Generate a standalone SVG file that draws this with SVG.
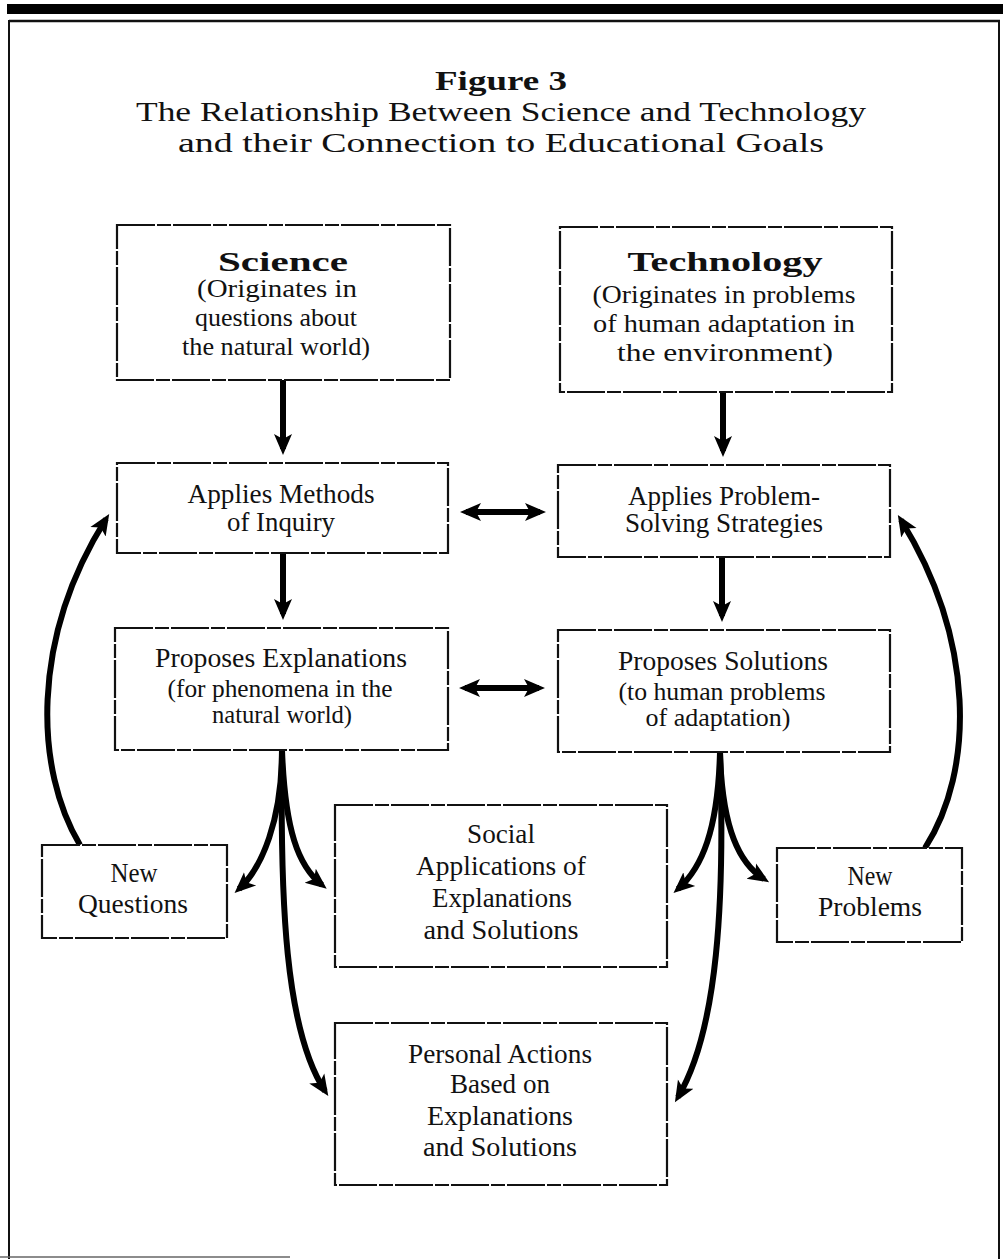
<svg xmlns="http://www.w3.org/2000/svg" width="1003" height="1259" viewBox="0 0 1003 1259">
<style>
.box{fill:#fff;stroke:#111;stroke-width:2.2;stroke-dasharray:38 2 14 2}
.t{font-family:"Liberation Serif","Times New Roman",serif;fill:#111;text-anchor:middle;font-size:27px}
.s{font-size:25px}
.b{font-weight:bold}
.c{fill:none;stroke:#000;stroke-width:6}
.frame{fill:none;stroke:#111}
</style>
<defs>
<marker id="ah" markerUnits="userSpaceOnUse" markerWidth="22" markerHeight="20" viewBox="0 0 22 20" refX="15" refY="10" orient="auto-start-reverse">
<path d="M0,1 L21,10 L0,19 L5,10 z" fill="#000"/>
</marker>
</defs>
<rect width="1003" height="1259" fill="#fff"/>
<g id="frame">
<rect x="7" y="4" width="996" height="10" fill="#000"/>
<line class="frame" x1="9" y1="21" x2="1000" y2="21" stroke-width="2.5"/>
<line class="frame" x1="9" y1="20" x2="9" y2="1259" stroke-width="2"/>
<line class="frame" x1="999" y1="20" x2="999" y2="1259" stroke-width="2"/>
<line x1="0" y1="1257" x2="290" y2="1257" stroke="#666" stroke-width="1.5"/>
</g>
<g id="title">
<text class="t b" x="501" y="90" font-size="30" textLength="132" lengthAdjust="spacingAndGlyphs">Figure 3</text>
<text class="t" x="501" y="121" font-size="31" textLength="730" lengthAdjust="spacingAndGlyphs">The Relationship Between Science and Technology</text>
<text class="t" x="501" y="152" font-size="31" textLength="646" lengthAdjust="spacingAndGlyphs">and their Connection to Educational Goals</text>
</g>
<g id="connectors">
<line class="c" x1="283" y1="380" x2="283" y2="449" marker-end="url(#ah)"/>
<line class="c" x1="723" y1="392" x2="723" y2="451" marker-end="url(#ah)"/>
<line class="c" x1="283" y1="553" x2="283" y2="614" marker-end="url(#ah)"/>
<line class="c" x1="722" y1="557" x2="722" y2="616" marker-end="url(#ah)"/>
<line class="c" x1="466" y1="512" x2="540" y2="512" marker-start="url(#ah)" marker-end="url(#ah)"/>
<line class="c" x1="465" y1="688" x2="539" y2="688" marker-start="url(#ah)" marker-end="url(#ah)"/>
<path class="c" d="M80,845 C35,770 30,640 106,519" marker-end="url(#ah)"/>
<path class="c" d="M925,848 C975,770 975,640 901,520" marker-end="url(#ah)"/>
<path class="c" d="M282,750 C282,820 262,868 239,889" marker-end="url(#ah)"/>
<path class="c" d="M282,750 C285,830 298,866 322,885" marker-end="url(#ah)"/>
<path class="c" d="M282,750 C280,900 285,1030 325,1091" marker-end="url(#ah)"/>
<path class="c" d="M720,752 C718,830 702,868 678,889" marker-end="url(#ah)"/>
<path class="c" d="M720,752 C722,830 740,864 764,879" marker-end="url(#ah)"/>
<path class="c" d="M720,752 C725,900 718,1030 678,1097" marker-end="url(#ah)"/>
</g>
<g id="science">
<rect class="box" x="117" y="225" width="333" height="155"/>
<text class="t b" x="283" y="271" font-size="37" textLength="130" lengthAdjust="spacingAndGlyphs">Science</text>
<text class="t s" x="277" y="297" textLength="160" lengthAdjust="spacingAndGlyphs">(Originates in</text>
<text class="t s" x="276" y="326" textLength="162" lengthAdjust="spacingAndGlyphs">questions about</text>
<text class="t s" x="276" y="355" textLength="188" lengthAdjust="spacingAndGlyphs">the natural world)</text>
</g>
<g id="technology">
<rect class="box" x="560" y="227" width="332" height="165"/>
<text class="t b" x="725" y="271" font-size="37" textLength="195" lengthAdjust="spacingAndGlyphs">Technology</text>
<text class="t s" x="724" y="303" textLength="263" lengthAdjust="spacingAndGlyphs">(Originates in problems</text>
<text class="t s" x="724" y="332" textLength="262" lengthAdjust="spacingAndGlyphs">of human adaptation in</text>
<text class="t s" x="725" y="361" textLength="216" lengthAdjust="spacingAndGlyphs">the environment)</text>
</g>
<g id="applies-methods">
<rect class="box" x="117" y="463" width="331" height="90"/>
<text class="t" x="281" y="503" textLength="187" lengthAdjust="spacingAndGlyphs">Applies Methods</text>
<text class="t" x="281" y="531" textLength="108" lengthAdjust="spacingAndGlyphs">of Inquiry</text>
</g>
<g id="applies-problem">
<rect class="box" x="558" y="465" width="332" height="92"/>
<text class="t" x="724" y="505" textLength="192" lengthAdjust="spacingAndGlyphs">Applies Problem-</text>
<text class="t" x="724" y="532" textLength="198" lengthAdjust="spacingAndGlyphs">Solving Strategies</text>
</g>
<g id="proposes-explanations">
<rect class="box" x="115" y="628" width="333" height="122"/>
<text class="t" x="281" y="667" textLength="252" lengthAdjust="spacingAndGlyphs">Proposes Explanations</text>
<text class="t s" x="280" y="697" font-size="22" textLength="225" lengthAdjust="spacingAndGlyphs">(for phenomena in the</text>
<text class="t s" x="282" y="723" font-size="22" textLength="140" lengthAdjust="spacingAndGlyphs">natural world)</text>
</g>
<g id="proposes-solutions">
<rect class="box" x="558" y="630" width="332" height="122"/>
<text class="t" x="723" y="670" textLength="210" lengthAdjust="spacingAndGlyphs">Proposes Solutions</text>
<text class="t s" x="722" y="700" font-size="22" textLength="207" lengthAdjust="spacingAndGlyphs">(to human problems</text>
<text class="t s" x="718" y="726" font-size="22" textLength="145" lengthAdjust="spacingAndGlyphs">of adaptation)</text>
</g>
<g id="new-questions">
<rect class="box" x="42" y="845" width="185" height="93"/>
<text class="t" x="134" y="882" textLength="47" lengthAdjust="spacingAndGlyphs">New</text>
<text class="t" x="133" y="913" textLength="110" lengthAdjust="spacingAndGlyphs">Questions</text>
</g>
<g id="social">
<rect class="box" x="335" y="805" width="332" height="162"/>
<text class="t" x="501" y="843" textLength="68" lengthAdjust="spacingAndGlyphs">Social</text>
<text class="t" x="501" y="875" textLength="170" lengthAdjust="spacingAndGlyphs">Applications of</text>
<text class="t" x="502" y="907" textLength="140" lengthAdjust="spacingAndGlyphs">Explanations</text>
<text class="t" x="501" y="939" textLength="155" lengthAdjust="spacingAndGlyphs">and Solutions</text>
</g>
<g id="new-problems">
<rect class="box" x="777" y="848" width="185" height="94"/>
<text class="t" x="870" y="885" textLength="45" lengthAdjust="spacingAndGlyphs">New</text>
<text class="t" x="870" y="916" textLength="104" lengthAdjust="spacingAndGlyphs">Problems</text>
</g>
<g id="personal">
<rect class="box" x="335" y="1023" width="332" height="162"/>
<text class="t" x="500" y="1063" textLength="184" lengthAdjust="spacingAndGlyphs">Personal Actions</text>
<text class="t" x="500" y="1093" textLength="100" lengthAdjust="spacingAndGlyphs">Based on</text>
<text class="t" x="500" y="1125" textLength="146" lengthAdjust="spacingAndGlyphs">Explanations</text>
<text class="t" x="500" y="1156" textLength="154" lengthAdjust="spacingAndGlyphs">and Solutions</text>
</g>
</svg>
